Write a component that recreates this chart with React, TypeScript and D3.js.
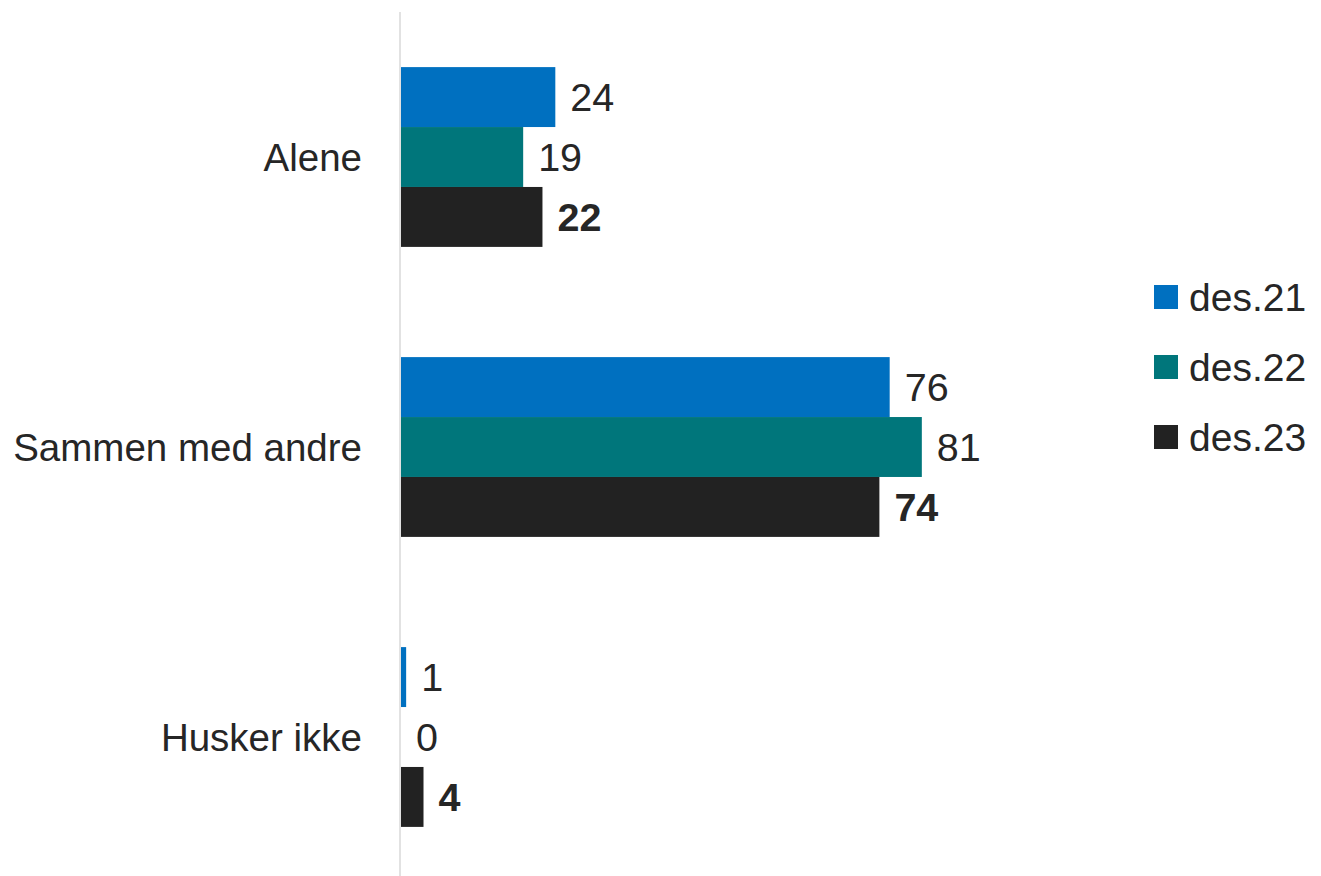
import React from "react";
import * as d3 from "d3";

const categories = ["Alene", "Sammen med andre", "Husker ikke"];
const seriesNames = ["des.21", "des.22", "des.23"];
const des21 = [24, 76, 0.8];
const des22 = [19, 81, 0];
const des23 = [22, 74.4, 3.5];
const seriesValues = [des21, des22, des23];
const colors = ["#0070c0", "#00767b", "#222222"];

const W = 1321;
const H = 876;
const FONT = "'Liberation Sans', Arial, sans-serif";

export default function App() {
  const x = d3.scaleLinear().domain([0, 100]).range([401, 1044]);
  const y = d3
    .scaleBand<string>()
    .domain(categories)
    .range([12, 882])
    .paddingInner(0.38)
    .paddingOuter(0.19);
  const ys = d3
    .scaleBand<string>()
    .domain(seriesNames)
    .range([0, y.bandwidth()]);
  const fmt = d3.format(".0f");
  const legendY = d3.scalePoint<string>().domain(seriesNames).range([297, 437]);

  return (
    <svg
      width={W}
      height={H}
      style={{ position: "absolute", left: 0, top: 0, background: "#fff" }}
      fontFamily={FONT}
    >
      {categories.map((c, ci) => (
        <g key={c}>
          <text
            x={362}
            y={(y(c) as number) + y.bandwidth() / 2}
            textAnchor="end"
            dominantBaseline="central"
            fontSize={38.5}
            fill="#262626"
          >
            {c}
          </text>
          {seriesNames.map((s, si) => {
            const v = seriesValues[si][ci];
            const by = (y(c) as number) + (ys(s) as number);
            const bh = ys.bandwidth();
            return (
              <g key={s}>
                <rect
                  x={x(0)}
                  y={by}
                  width={x(v) - x(0)}
                  height={bh}
                  fill={colors[si]}
                />
                <text
                  x={x(v) + 15}
                  y={by + bh / 2}
                  dominantBaseline="central"
                  fontSize={39.5}
                  fontWeight={si === 2 ? "bold" : "normal"}
                  fill="#262626"
                >
                  {fmt(v)}
                </text>
              </g>
            );
          })}
        </g>
      ))}
      <line x1={400} x2={400} y1={12} y2={H} stroke="#d9d9d9" strokeWidth={1.5} />
      {seriesNames.map((s, si) => (
        <g key={s}>
          <rect
            x={1154}
            y={(legendY(s) as number) - 12}
            width={24}
            height={24}
            fill={colors[si]}
          />
          <text
            x={1189}
            y={legendY(s) as number}
            dominantBaseline="central"
            fontSize={39}
            fill="#262626"
          >
            {s}
          </text>
        </g>
      ))}
    </svg>
  );
}
